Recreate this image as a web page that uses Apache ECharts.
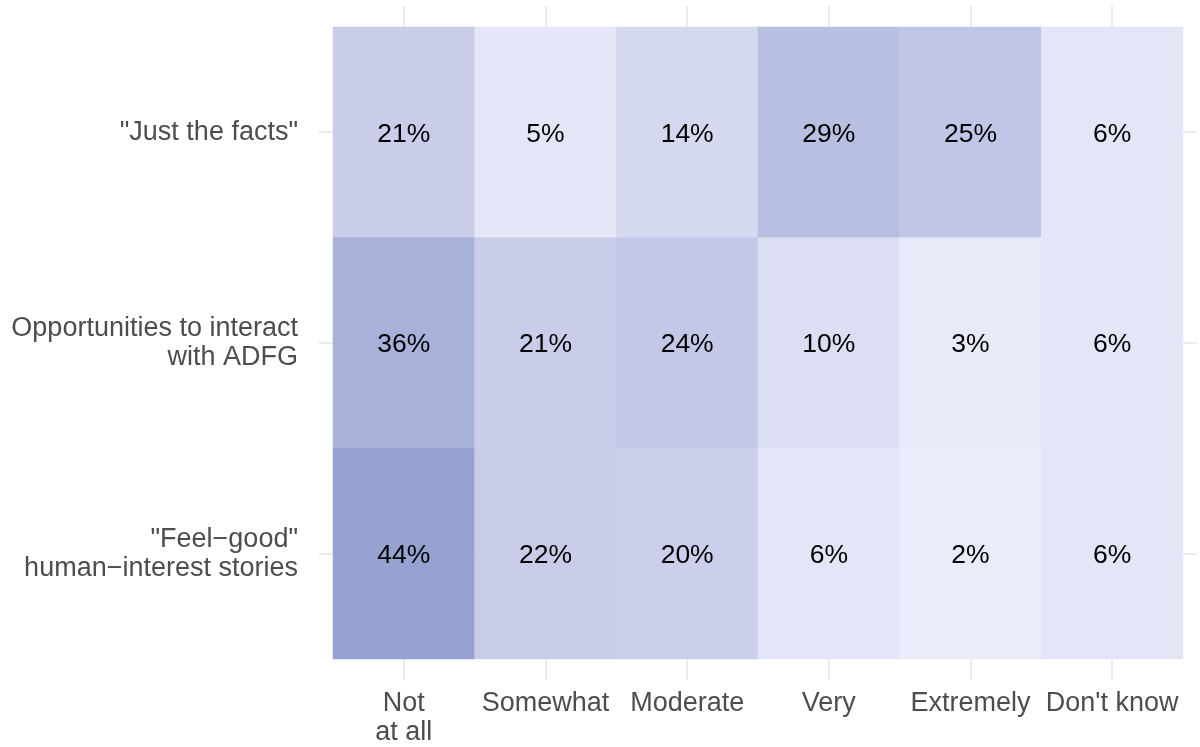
<!DOCTYPE html>
<html>
<head>
<meta charset="utf-8">
<script src="https://cdn.jsdelivr.net/npm/echarts@6/dist/echarts.min.js"></script>
<style>
  html, body { margin: 0; padding: 0; background: #fff; }
  #chart { width: 1200px; height: 747px; }
</style>
</head>
<body>
<div id="chart"></div>
<script>
const levels = ['Not\nat all', 'Somewhat', 'Moderate', 'Very', 'Extremely', "Don't know"];
const topics = ['"Just the facts"', 'Opportunities to interact\nwith ADFG', '"Feel\u2212good"\nhuman\u2212interest stories'];
const justFacts = [21, 5, 14, 29, 25, 6];
const interact = [36, 21, 24, 10, 3, 6];
const feelGood = [44, 22, 20, 6, 2, 6];

const rows = [justFacts, interact, feelGood];
let cells = [];
rows.forEach((vals, r) => {
  vals.forEach((v, c) => cells.push([c, r, v]));
});

const font = 'Liberation Sans, Arial, Helvetica, sans-serif';
const gridColor = '#ebebeb';

let myChart = echarts.init(document.getElementById('chart'), null, { renderer: 'canvas' });

let option = {
  backgroundColor: '#ffffff',
  animation: false,
  grid: [
    // tiles
    { left: 333, right: 17, top: 27, bottom: 88 },
    // vertical grid lines (column centres, panel height)
    { left: 404, right: 88, top: 6, bottom: 67 },
    // horizontal grid lines (row centres, panel width)
    { left: 319, right: 3, top: 132, bottom: 193 }
  ],
  xAxis: [
    {
      type: 'category', gridIndex: 0, data: levels,
      axisLine: { show: false }, axisTick: { show: false }, splitLine: { show: false },
      axisLabel: { color: '#4d4d4d', fontSize: 27, fontFamily: font, margin: 30, lineHeight: 29, interval: 0 }
    },
    {
      type: 'category', gridIndex: 1, data: levels, boundaryGap: false,
      axisLine: { show: false }, axisTick: { show: false }, axisLabel: { show: false },
      splitLine: { show: true, lineStyle: { color: gridColor, width: 2 } }
    },
    {
      type: 'value', gridIndex: 2, show: false
    }
  ],
  yAxis: [
    {
      type: 'category', gridIndex: 0, data: topics, inverse: true,
      axisLine: { show: false }, axisTick: { show: false }, splitLine: { show: false },
      axisLabel: { color: '#4d4d4d', fontSize: 27, fontFamily: font, margin: 35, lineHeight: 29, align: 'right' }
    },
    {
      type: 'value', gridIndex: 1, show: false
    },
    {
      type: 'category', gridIndex: 2, data: topics, inverse: true, boundaryGap: false,
      axisLine: { show: false }, axisTick: { show: false }, axisLabel: { show: false },
      splitLine: { show: true, lineStyle: { color: gridColor, width: 2 } }
    }
  ],
  visualMap: {
    show: false,
    min: 2,
    max: 44,
    dimension: 2,
    seriesIndex: 0,
    inRange: { color: ['#eaecfb', '#c6cae8', '#96a2d0'] }
  },
  series: [
    {
      type: 'heatmap',
      xAxisIndex: 0,
      yAxisIndex: 0,
      data: cells,
      z: 5,
      label: {
        show: true,
        formatter: (p) => p.value[2] + '%',
        color: '#000000',
        fontSize: 26.5,
        fontFamily: font,
        offset: [0, 2]
      },
      itemStyle: { borderWidth: 0 },
      emphasis: { disabled: true }
    }
  ]
};

myChart.setOption(option);
</script>
</body>
</html>
